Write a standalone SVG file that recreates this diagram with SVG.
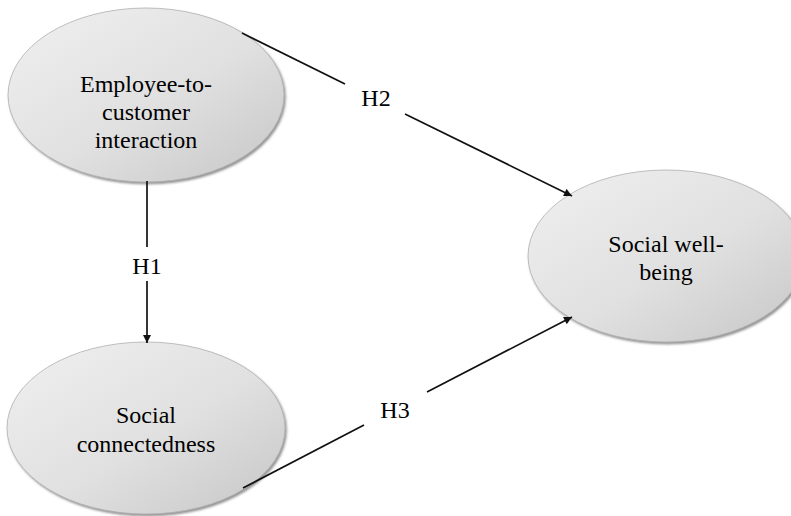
<svg xmlns="http://www.w3.org/2000/svg" width="791" height="516" viewBox="0 0 791 516">
  <style>
    .node { fill: url(#g); stroke: #b0b0b0; stroke-width: 0.8; filter: url(#sh); }
    .lbl { font-family: "Liberation Serif", "Times New Roman", serif; font-size: 24px; fill: #000000; text-anchor: middle; }
    .edge { stroke: #111111; stroke-width: 1.7; fill: none; }
  </style>
  <defs>
    <linearGradient id="g" x1="0" y1="0" x2="1" y2="1">
      <stop offset="0" stop-color="#f0f0f0"/>
      <stop offset="0.55" stop-color="#e0e0e0"/>
      <stop offset="1" stop-color="#c6c6c6"/>
    </linearGradient>
    <filter id="sh" x="-10%" y="-10%" width="120%" height="125%">
      <feDropShadow dx="1.5" dy="2" stdDeviation="1.2" flood-color="#666" flood-opacity="0.7"/>
    </filter>
    <marker id="arr" viewBox="0 0 10 10" refX="10" refY="5" markerWidth="9" markerHeight="8" markerUnits="userSpaceOnUse" orient="auto">
      <path d="M0,0 L10,5 L0,10 z" fill="#111111"/>
    </marker>
  </defs>
  <rect width="791" height="516" fill="#ffffff"/>

  <g id="n-employee">
    <ellipse class="node" cx="146" cy="95" rx="138" ry="87"/>
    <text class="lbl" x="146" y="92">Employee-to-</text>
    <text class="lbl" x="146" y="120">customer</text>
    <text class="lbl" x="146" y="148">interaction</text>
  </g>
  <g id="n-connectedness">
    <ellipse class="node" cx="146" cy="428" rx="139" ry="86"/>
    <text class="lbl" x="146" y="423">Social</text>
    <text class="lbl" x="146" y="452">connectedness</text>
  </g>
  <g id="n-wellbeing">
    <ellipse class="node" cx="666" cy="256" rx="138" ry="86"/>
    <text class="lbl" x="666" y="252">Social well-</text>
    <text class="lbl" x="666" y="280">being</text>
  </g>

  <g id="connectors">
    <line class="edge" x1="147" y1="181" x2="147" y2="247"/>
    <line class="edge" x1="147" y1="281" x2="147" y2="343" marker-end="url(#arr)"/>
    <text class="lbl" x="147" y="274">H1</text>

    <line class="edge" x1="242" y1="33" x2="345" y2="84"/>
    <line class="edge" x1="405" y1="114" x2="572" y2="196" marker-end="url(#arr)"/>
    <text class="lbl" x="376" y="106">H2</text>

    <line class="edge" x1="243" y1="488" x2="364" y2="425"/>
    <line class="edge" x1="427" y1="392" x2="572" y2="317" marker-end="url(#arr)"/>
    <text class="lbl" x="395" y="418">H3</text>
  </g>
</svg>
